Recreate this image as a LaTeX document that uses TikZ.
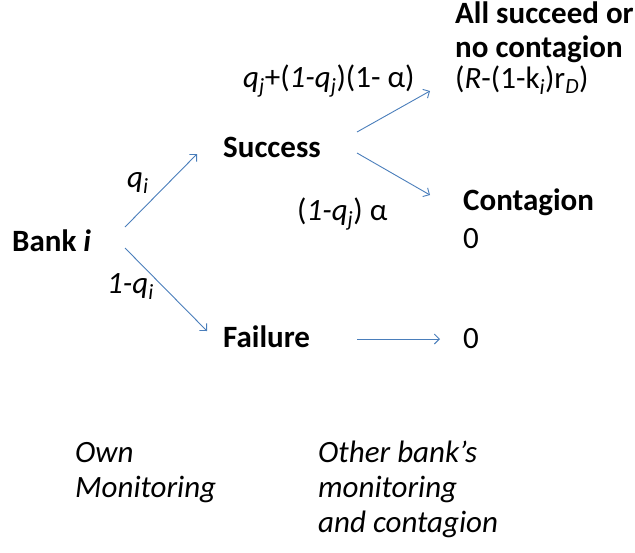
\documentclass[tikz,border=0pt]{standalone}
\usepackage{fontspec}
\setmainfont{Carlito}
\usetikzlibrary{arrows.meta}
\definecolor{arrowblue}{HTML}{4A7EBB}
\begin{document}
\begin{tikzpicture}[x=1pt,y=-1pt,
  txt/.style={anchor=base west, inner sep=0pt, font=\fontsize{31}{35}\selectfont, align=left},
  bld/.style={txt, font=\fontsize{31}{35}\selectfont\bfseries},
  itl/.style={txt, font=\fontsize{31}{35}\selectfont\itshape},
  arr/.style={draw=arrowblue, line width=0.9pt, -{Straight Barb[length=5pt,width=10pt]}}]
\useasboundingbox (0,0) rectangle (635,552);
% nodes
\node[bld] (bank) at (12,251) {Bank \textit{i}};
\node[bld] (success) at (223,157) {Success};
\node[bld] (failure) at (223,347) {Failure};
\node[bld] (all1) at (455,23) {All succeed or};
\node[bld] (all2) at (455,57) {no contagion};
\node[txt] (payA) at (455,88) {(\textit{R}-(1-k\textsubscript{\textit{i}})r\textsubscript{\textit{D}})};
\node[bld] (cont) at (463,210) {Contagion};
\node[txt] (payB) at (463,248) {0};
\node[txt] (payC) at (463,348) {0};
% probabilities
\node[txt] (pq) at (127,187) {\textit{q}\textsubscript{\textit{i}}};
\node[txt] (p1q) at (107,293) {\textit{1-q}\textsubscript{\textit{i}}};
\node[txt] (pA) at (243,87) {\textit{q}\textsubscript{\textit{j}}+(\textit{1-q}\textsubscript{\textit{j}})(1- α)};
\node[txt] (pB) at (297,220) {(\textit{1-q}\textsubscript{\textit{j}}) α};
% captions (base anchor = last line)
\node[itl] (own) at (75,497) {Own\\Monitoring};
\node[itl] (other) at (318,532) {Other bank’s\\monitoring\\and contagion};
% arrow end points
\coordinate (a1s) at (125,227);
\coordinate (a1e) at (197,154);
\coordinate (a2s) at (125,248);
\coordinate (a2e) at (207,331);
\coordinate (a3s) at (357,132);
\coordinate (a3e) at (430,91);
\coordinate (a4s) at (357,153);
\coordinate (a4e) at (430,195);
\coordinate (a5s) at (357,339);
\coordinate (a5e) at (440,339);
\draw[arr] (a1s) -- (a1e);
\draw[arr] (a2s) -- (a2e);
\draw[arr] (a3s) -- (a3e);
\draw[arr] (a4s) -- (a4e);
\draw[arr] (a5s) -- (a5e);
\end{tikzpicture}
\end{document}
